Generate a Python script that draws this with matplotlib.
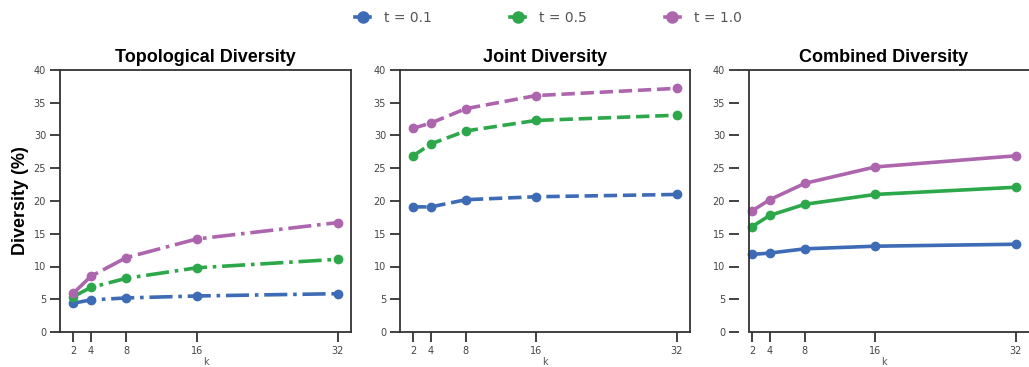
import matplotlib
matplotlib.use("Agg")
import matplotlib.pyplot as plt
from matplotlib.lines import Line2D

k = [2, 4, 8, 16, 32]
k_labels = ['2', '4', '8', '16', '32']
labels = ['t = 0.1', 't = 0.5', 't = 1.0']
colors = ['#3d6bb5', '#2ca84a', '#ad66ad']

titles = ['Topological Diversity', 'Joint Diversity', 'Combined Diversity']
styles = ['-.', '--', '-']

# topological
topo_01 = [4.4, 4.9, 5.2, 5.5, 5.85]
topo_05 = [5.4, 6.8, 8.2, 9.8, 11.1]
topo_10 = [5.9, 8.5, 11.35, 14.2, 16.7]
# joint
joint_01 = [19.1, 19.1, 20.2, 20.65, 21.0]
joint_05 = [26.9, 28.7, 30.7, 32.3, 33.1]
joint_10 = [31.1, 31.9, 34.1, 36.1, 37.2]
# combined
comb_01 = [11.85, 12.05, 12.7, 13.1, 13.4]
comb_05 = [16.1, 17.8, 19.5, 21.0, 22.1]
comb_10 = [18.5, 20.2, 22.7, 25.2, 26.9]

data = [[topo_01, topo_05, topo_10],
        [joint_01, joint_05, joint_10],
        [comb_01, comb_05, comb_10]]

W, H = 1029, 367
fig = plt.figure(figsize=(W / 100, H / 100), dpi=100)

lefts = [60, 400, 739]
widths = [291, 290, 290]
bottom, top = 332, 70

spine_col = '#333333'
tick_col = '#444444'

axes = []
for i in range(3):
    ax = fig.add_axes([lefts[i] / W, (H - bottom) / H, widths[i] / W, (bottom - top) / H])
    for j in range(3):
        ax.plot(k, data[i][j], linestyle=styles[i], color=colors[j], lw=2.6,
                marker='o', markersize=6, label=labels[j])
    ax.set_xlim(0.5, 33.5)
    ax.set_ylim(0, 40)
    ax.set_xticks(k)
    ax.set_xticklabels(k_labels)
    ax.set_yticks(range(0, 41, 5))
    ax.tick_params(axis='both', labelsize=7, colors=spine_col, labelcolor=tick_col,
                   length=7, width=1.3, pad=3)
    for s in ax.spines.values():
        s.set_color(spine_col)
        s.set_linewidth(1.3)
    ax.set_xlabel('k', fontsize=7, color='#555555', labelpad=1)
    ax.set_title(titles[i], fontsize=13, fontweight='bold', family='Liberation Sans', pad=6)
    axes.append(ax)

# third panel: left spine sits a little inside the tick marks
ax3 = axes[2]
ax3.spines['left'].set_visible(False)
ax3.spines['right'].set_visible(False)
ax3.spines['bottom'].set_bounds(1.64, 33.5)
ax3.axvline(1.64, color=spine_col, lw=1.3)

axes[0].set_ylabel('Diversity (%)', fontsize=13, fontweight='bold', family='Liberation Sans', labelpad=3)

leg_handles = [Line2D([], [], color=c, lw=2.6, marker='o', markersize=8) for c in colors]
fig.legend(leg_handles, labels, loc='center', bbox_to_anchor=(0.533, 0.952), ncol=3,
           frameon=False, fontsize=10, columnspacing=5.6, handlelength=1.1,
           handletextpad=1.0, labelcolor='#555555')

fig.savefig('out.png', dpi=100)
